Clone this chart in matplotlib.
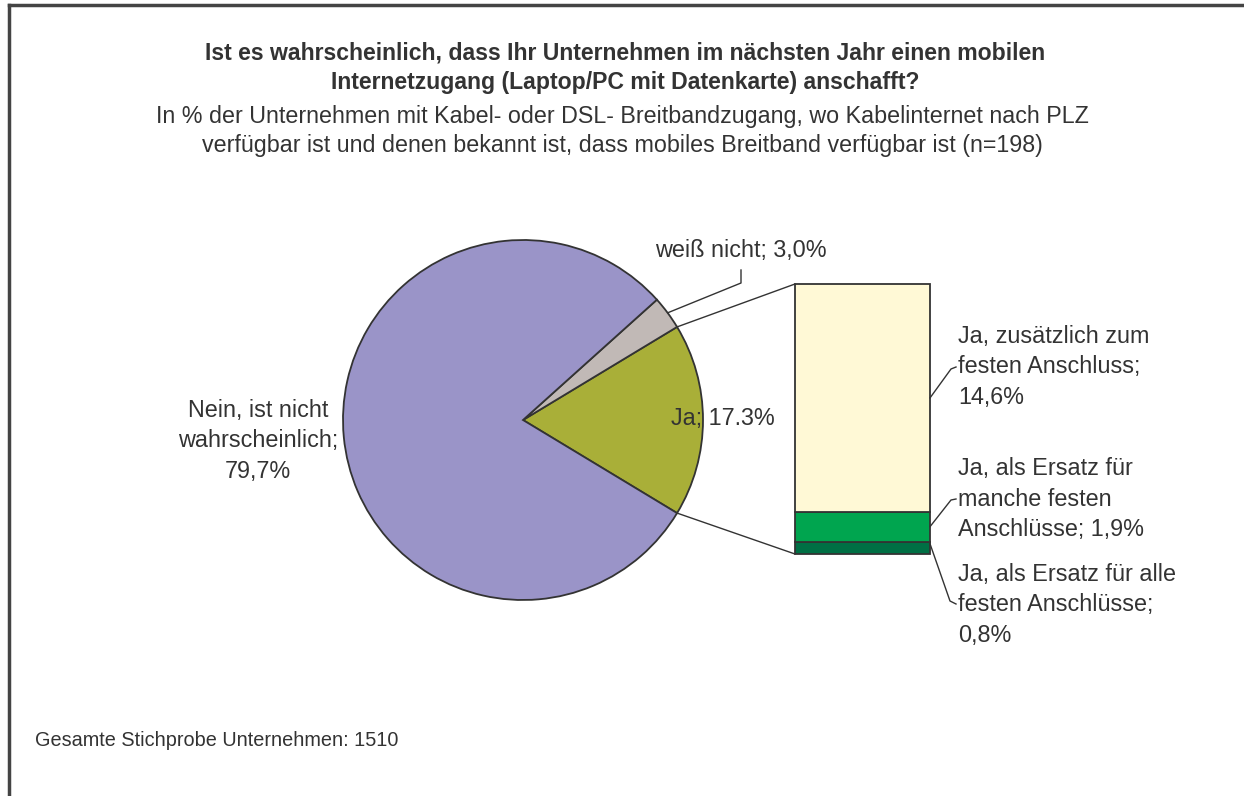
import numpy as np
import matplotlib
matplotlib.use("Agg")
import matplotlib.pyplot as plt

# pie data (order: Ja, weiß nicht, Nein)
pie_labels = ["Ja; 17.3%", "weiß nicht; 3,0%", "Nein, ist nicht\nwahrscheinlich;\n79,7%"]
pie_values = [17.3, 3.0, 79.7]
pie_colors = ["#A9AF38", "#C1B9B6", "#9A94C8"]

# breakdown of "Ja" (bottom to top)
bar_labels = ["Ja, als Ersatz für alle\nfesten Anschlüsse;\n0,8%",
              "Ja, als Ersatz für\nmanche festen\nAnschlüsse; 1,9%",
              "Ja, zusätzlich zum\nfesten Anschluss;\n14,6%"]
bar_values = [0.8, 1.9, 14.6]
bar_colors = ["#006F44", "#00A54F", "#FFF9D6"]

title = ("Ist es wahrscheinlich, dass Ihr Unternehmen im nächsten Jahr einen mobilen\n"
         "Internetzugang (Laptop/PC mit Datenkarte) anschafft?")
subtitle = ("In % der Unternehmen mit Kabel- oder DSL- Breitbandzugang, wo Kabelinternet nach PLZ\n"
            "verfügbar ist und denen bekannt ist, dass mobiles Breitband verfügbar ist (n=198)")
footnote = "Gesamte Stichprobe Unternehmen: 1510"

plt.rcParams["font.family"] = ["Liberation Sans", "DejaVu Sans"]
txt = "#333333"
edge = "#333333"

W, H = 1244, 796
fig = plt.figure(figsize=(W / 100, H / 100), dpi=100)
ax = fig.add_axes([0, 0, 1, 1])

def py(y):
    return H - y

# pie
cx, cy, r = 523, py(420), 180
start = -pie_values[0] / 100 * 360 / 2
ax.pie(pie_values, colors=pie_colors, startangle=start, counterclock=True,
       radius=r, center=(cx, cy), frame=True,
       wedgeprops=dict(edgecolor=edge, linewidth=1.3))
ax.set_xlim(0, W)
ax.set_ylim(0, H)
ax.set_aspect("auto")
ax.axis("off")

# frame (top and left edges)
ax.plot([9, W], [py(5), py(5)], color="#444444", lw=2.5)
ax.plot([9, 9], [py(5), 0], color="#444444", lw=2.5)

# stacked bar
bx, bw = 862.5, 135
btop, bbot = py(284), py(554)
scale = (btop - bbot) / sum(bar_values)
bottom = bbot
bounds = []
for v, c in zip(bar_values, bar_colors):
    ax.bar(bx, v * scale, width=bw, bottom=bottom, color=c, edgecolor=edge, linewidth=1.3)
    bounds.append((bottom, bottom + v * scale))
    bottom += v * scale

# connector lines from Ja slice to the bar
a = np.deg2rad(start)
ax.plot([cx + r * np.cos(a), bx - bw / 2], [cy + r * np.sin(a), bbot], color=edge, lw=1)
ax.plot([cx + r * np.cos(-a), bx - bw / 2], [cy + r * np.sin(-a), btop], color=edge, lw=1)

fs = 16.8
# pie labels
ax.text(723, py(419), pie_labels[0], fontsize=fs, color=txt, ha="center", va="center")
ax.text(741, py(251), pie_labels[1], fontsize=fs, color=txt, ha="center", va="center")
mid = np.deg2rad(start + (pie_values[0] + pie_values[1] / 2) / 100 * 360)
ax.plot([741, 741, cx + r * np.cos(mid)], [py(270), py(283), cy + r * np.sin(mid)], color=edge, lw=1)
ax.text(258, py(441), pie_labels[2], fontsize=fs, color=txt, ha="center", va="center",
        linespacing=1.39)

# bar labels
xr = bx + bw / 2
label_y = [605, 499, 367]
for lab, ly in zip(bar_labels, label_y):
    ax.text(958, py(ly), lab, fontsize=fs, color=txt, ha="left", va="center", linespacing=1.39)
ax.plot([xr, 951, 956], [(bounds[2][0] + bounds[2][1]) / 2, py(369), py(367)], color=edge, lw=1)
ax.plot([xr, 951, 956], [(bounds[1][0] + bounds[1][1]) / 2, py(500), py(499)], color=edge, lw=1)
ax.plot([xr, 950, 956], [(bounds[0][0] + bounds[0][1]) / 2 + 4, py(601), py(604)], color=edge, lw=1)

# titles
ax.text(625, py(68), title, fontsize=16.6, fontweight="bold", color=txt, ha="center",
        va="center", linespacing=1.35)
ax.text(W / 2, py(131), subtitle, fontsize=16.75, color=txt, ha="center", va="center",
        linespacing=1.37)
ax.text(35, py(741), footnote, fontsize=14.3, color=txt, ha="left", va="center")

fig.savefig("out.png", dpi=100, facecolor="white")
